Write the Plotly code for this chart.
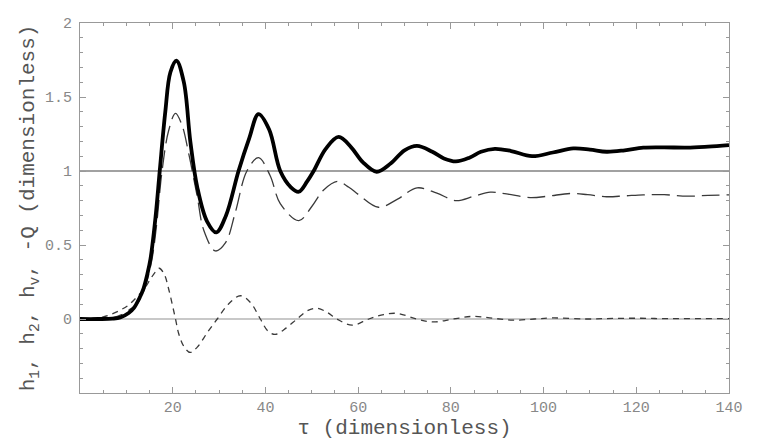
import plotly.graph_objects as go

# values
tau_h1 = [0, 4, 7, 8.7, 10.5, 11.6, 12.8, 13.7, 14.5, 15.2, 16.3, 17.2, 18.4, 19.5,
          20.8, 22.4, 23.8, 25.3, 27.4, 29.4, 31.5, 34.2, 36.5, 38.5, 40.8, 43.2,
          45.5, 47.2, 49, 50.4, 53, 55.8, 58.5, 61, 64, 67, 70, 72.7, 76, 78.5,
          81.1, 84, 86.5, 89.5, 93, 97.5, 102, 106.4, 110, 113.6, 117.5, 121.5,
          126, 130.9, 135.5, 140]
h1 = [0, 0, 0.002, 0.01, 0.04, 0.073, 0.14, 0.206, 0.30, 0.405, 0.69, 1.0, 1.40,
      1.667, 1.745, 1.60, 1.20, 0.89, 0.66, 0.585, 0.70, 1.0, 1.22, 1.384, 1.28,
      1.0, 0.89, 0.86, 0.93, 1.0, 1.15, 1.23, 1.16, 1.06, 0.995, 1.05, 1.14, 1.17,
      1.13, 1.085, 1.065, 1.09, 1.13, 1.15, 1.135, 1.10, 1.125, 1.153, 1.145, 1.13,
      1.14, 1.158, 1.16, 1.158, 1.165, 1.175]

tau_h2 = [0, 4, 7, 9, 11, 12.5, 14, 15.5, 16.5, 17.7, 19.1, 20.6, 22.0, 23.5, 25.3,
          26.7, 29.2, 31.4, 33.5, 36.0, 38.5, 41, 43.2, 47.2, 50, 52.5, 55.5, 58,
          60.1, 64.4, 68.5, 72.7, 77, 81.1, 85, 88.5, 92, 97.1, 101, 105.7, 109.5,
          113.6, 117.5, 121.5, 126, 131, 135.5, 140]
h2 = [0, 0.003, 0.01, 0.03, 0.07, 0.11, 0.21, 0.40, 0.63, 1.0, 1.27, 1.39, 1.31,
      1.11, 0.826, 0.60, 0.46, 0.516, 0.72, 1.0, 1.09, 0.97, 0.78, 0.665, 0.76,
      0.87, 0.93, 0.89, 0.84, 0.755, 0.81, 0.886, 0.85, 0.80, 0.83, 0.857, 0.845,
      0.82, 0.83, 0.848, 0.84, 0.826, 0.832, 0.839, 0.84, 0.83, 0.835, 0.839]

tau_hv = [0, 3, 5, 6.6, 8.7, 10.5, 12.3, 14, 15.2, 16.3, 17.1, 18.2, 19.1, 20.6,
          21.3, 22.5, 23.8, 25.3, 27.5, 29.6, 32, 34.6, 36.8, 38.9, 40.5, 42.1,
          44.5, 46.8, 49, 51.1, 53.3, 55.4, 58.7, 62.3, 65.5, 68.4, 72.6, 76.3,
          80.5, 84.9, 89, 93.4, 98, 102, 109.3, 115, 121, 127, 133, 140]
hv = [0, 0.005, 0.015, 0.03, 0.06, 0.095, 0.15, 0.21, 0.27, 0.32, 0.343, 0.30,
      0.206, 0.0, -0.1, -0.19, -0.226, -0.19, -0.09, 0.0, 0.10, 0.157, 0.11, 0.0,
      -0.08, -0.104, -0.06, 0.0, 0.055, 0.073, 0.045, 0.0, -0.042, 0.0, 0.03,
      0.038, 0.0, -0.02, 0.0, 0.018, 0.005, -0.008, 0.0, 0.007, 0.0, 0.004, 0.005,
      0.002, 0.003, 0.003]

x_ticks = [20, 40, 60, 80, 100, 120, 140]
y_ticks = [0, 0.5, 1, 1.5, 2]
y_ticktext = ["0", "0.5", "1", "1.5", "2"]

mono = "Liberation Mono, Courier New, monospace"

fig = go.Figure()
fig.add_trace(go.Scatter(x=tau_hv, y=hv, mode="lines", line_shape="spline",
                         line=dict(color="#3a3a3a", width=1.3, dash="6px,5px")))
fig.add_trace(go.Scatter(x=tau_h2, y=h2, mode="lines", line_shape="spline",
                         line=dict(color="#3a3a3a", width=1.3, dash="18px,7px")))
fig.add_trace(go.Scatter(x=tau_h1, y=h1, mode="lines", line_shape="spline",
                         line=dict(color="black", width=3.8)))

# reference line at 1
fig.add_hline(y=1, line=dict(color="#444", width=1.2), layer="below")

fig.update_xaxes(
    range=[0, 140], tickvals=x_ticks, showgrid=False, zeroline=False,
    showline=True, mirror="allticks", linecolor="#999", linewidth=1,
    ticks="inside", ticklen=6, tickcolor="#999",
    minor=dict(dtick=5, tick0=0, ticks="inside", ticklen=3, tickcolor="#999"),
    tickfont=dict(family=mono, size=15, color="#888"),
    title=dict(text="τ (dimensionless)", standoff=0,
               font=dict(family=mono, size=21, color="#555")),
)
fig.update_yaxes(
    range=[-0.5, 2], tickvals=y_ticks, ticktext=y_ticktext, showgrid=False,
    zeroline=True, zerolinecolor="#c8c8c8", zerolinewidth=1.5,
    showline=True, mirror="allticks", linecolor="#999", linewidth=1,
    ticks="inside", ticklen=6, tickcolor="#999",
    minor=dict(dtick=0.1, tick0=0, ticks="inside", ticklen=3, tickcolor="#999"),
    tickfont=dict(family=mono, size=15, color="#888"), ticklabelstandoff=4,
    title=dict(text="h<sub>1</sub>, h<sub>2</sub>, h<sub>v</sub>, -Q (dimensionless)",
               standoff=4, font=dict(family=mono, size=21, color="#555")),
)

# page body adds 8px, so margins are shifted to land the frame where the reference has it
fig.update_layout(
    width=763, height=440, showlegend=False,
    plot_bgcolor="white", paper_bgcolor="white",
    margin=dict(l=72, r=42, t=8, b=55),
)

fig.write_html("out.html")
